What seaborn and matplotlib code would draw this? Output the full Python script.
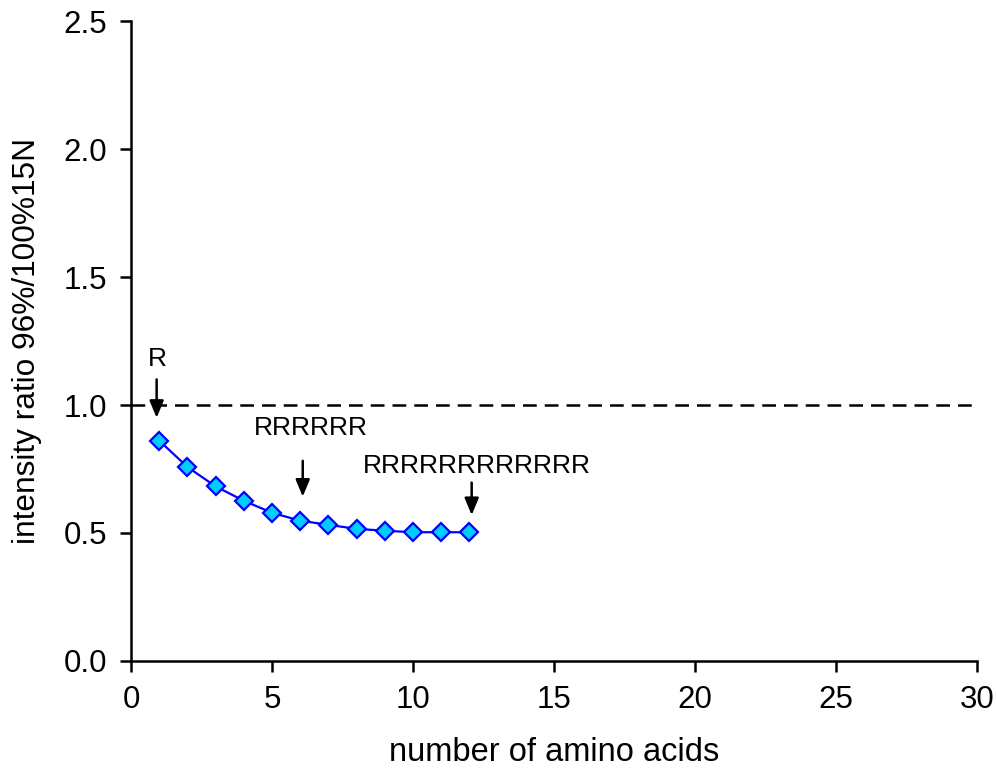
import matplotlib
matplotlib.use("Agg")
import matplotlib.pyplot as plt
import seaborn as sns
import pandas as pd

num_amino_acids = [1, 2, 3, 4, 5, 6, 7, 8, 9, 10, 11, 12]
intensity_ratio = [0.861, 0.758, 0.682, 0.626, 0.579, 0.548, 0.532, 0.516, 0.509, 0.503, 0.503, 0.503]
x_ticks = [0, 5, 10, 15, 20, 25, 30]
y_ticks = [0.0, 0.5, 1.0, 1.5, 2.0, 2.5]
annotations = ["R", "RRRRRR", "RRRRRRRRRRRR"]
arrow_x = [0.91, 6.09, 12.08]
arrow_top = [1.10, 0.782, 0.697]
arrow_tip = [0.95, 0.642, 0.570]
label_x = [0.93, 6.38, 12.25]
label_y = [1.18, 0.91, 0.76]

sns.set_style("ticks")
plt.rcParams['font.family'] = ['Liberation Sans', 'DejaVu Sans']
plt.rcParams['text.color'] = 'black'
plt.rcParams['axes.labelcolor'] = 'black'
plt.rcParams['xtick.color'] = 'black'
plt.rcParams['ytick.color'] = 'black'

df = pd.DataFrame({"n": num_amino_acids, "ratio": intensity_ratio})

fig = plt.figure(figsize=(9.96, 7.73), dpi=100)
ax = fig.add_axes([0.1315, 0.1449, 0.981 - 0.1315, 0.9728 - 0.1449])

ax.axhline(1.0, color="black", linestyle=(0, (5.5, 3.2)), linewidth=1.8, zorder=1)

sns.lineplot(data=df, x="n", y="ratio", ax=ax, color="#0000FF", linewidth=1.6,
             marker="D", markersize=9.5, markerfacecolor="#00CCFF",
             markeredgecolor="#0000FF", markeredgewidth=1.6, zorder=3)

for t, ax_x, at, tip, lx, ly in zip(annotations, arrow_x, arrow_top, arrow_tip, label_x, label_y):
    ax.annotate("", xy=(ax_x, tip), xytext=(ax_x, at),
                arrowprops=dict(arrowstyle="-|>,head_length=0.6,head_width=0.25",
                                color="black", lw=1.8, shrinkA=0, shrinkB=0,
                                mutation_scale=17))
    ax.text(lx, ly, t, ha="center", va="center", fontsize=19, color="black")

ax.set_xlim(0, 30)
ax.set_ylim(0, 2.5)
ax.set_xticks(x_ticks)
ax.set_yticks(y_ticks)
ax.set_yticklabels([f"{v:.1f}" for v in y_ticks])
ax.set_xlabel("number of amino acids", fontsize=23.5, labelpad=16)
ax.set_ylabel("intensity ratio 96%/100%15N", fontsize=22.8, labelpad=16)
ax.tick_params(axis="both", labelsize=22.5, direction="out", length=8, width=1.8, pad=9, color="black")
for s in ["top", "right"]:
    ax.spines[s].set_visible(False)
for s in ["left", "bottom"]:
    ax.spines[s].set_linewidth(1.8)
    ax.spines[s].set_color("black")

fig.savefig("out.png", dpi=100)
